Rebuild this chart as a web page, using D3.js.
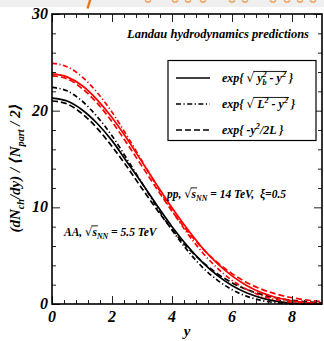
<!DOCTYPE html>
<html><head><meta charset="utf-8">
<script src="https://cdn.jsdelivr.net/npm/d3@7"></script>
<style>
body{margin:0;background:#fff;}
svg{display:block;}
text{font-family:"Liberation Serif","Times New Roman","DejaVu Serif",serif;font-weight:bold;font-style:italic;fill:#000;white-space:pre;}
</style></head>
<body>
<script>
// ---- data ----
const rapidity = [0,0.5,1,1.5,2,2.5,3,3.5,4,4.5,5,5.5,6,6.5,7,7.5,8,8.5,9];
const aaSolid   = [21.3,21.0,20.1,18.7,16.9,14.7,12.5,10.2,8.0,6.05,4.36,2.98,1.91,1.13,0.61,0.28,0.10,0.02,0];
const aaDashDot = [22.4,22.05,21.0,19.4,17.4,15.0,12.5,10.0,7.65,5.6,3.85,2.5,1.48,0.79,0.35,0.12,0,0,0];
const aaDashed  = [21.0,20.7,19.7,18.2,16.3,14.2,11.95,9.75,7.7,5.9,4.4,3.16,2.2,1.49,0.97,0.62,0.38,0.23,0.13];
const ppSolid   = [23.8,23.5,22.6,21.15,19.3,17.1,14.7,12.3,9.95,7.8,5.85,4.22,2.91,1.89,1.15,0.65,0.33,0.14,0.05];
const ppDashDot = [24.9,24.55,23.5,21.9,19.85,17.4,14.8,12.2,9.66,7.37,5.38,3.74,2.45,1.5,0.84,0.42,0.17,0.05,0];
const ppDashed  = [23.6,23.3,22.3,20.8,18.86,16.6,14.25,11.9,9.6,7.6,5.8,4.33,3.14,2.21,1.51,1.01,0.65,0.41,0.25];
const xTickLabels = [0,2,4,6,8];
const yTickLabels = [0,10,20,30];
const legendLabels = ["sqrtyb","sqrtL","gauss"];
const title = "Landau hydrodynamics predictions";
const ppNote = "pp";
const aaNote = "AA";

// ---- layout ----
const W=324,H=341;
const L=52,R=322,T=14,B=304;
const svg=d3.select("body").append("svg").attr("width",W).attr("height",H);

// top strip (cropped header)
svg.append("rect").attr("x",0).attr("y",0).attr("width",W).attr("height",7).attr("fill","#efefef");
svg.append("line").attr("x1",90.5).attr("y1",-1).attr("x2",87.5).attr("y2",8.5).attr("stroke","#e07b1a").attr("stroke-width",2.4);
[148,175,188,203,232,245,273,287,300,313].forEach(cx=>{
  svg.append("path").attr("d",`M${cx-3},0.5 Q${cx},4 ${cx+3},0.5`).attr("fill","none").attr("stroke","#f0a25a").attr("stroke-width",1.6);
});

const x=d3.scaleLinear().domain([0,9]).range([L,R]);
const y=d3.scaleLinear().domain([0,30]).range([B,T]);

const curveColor={aa:"#000",pp:"#ff0000"};
const dashes={solid:null,dashdot:"5,2.5,1.2,2.5",dashed:"6,3"};
const series=[
  {v:aaSolid,c:"aa",d:"solid"},{v:aaDashDot,c:"aa",d:"dashdot"},{v:aaDashed,c:"aa",d:"dashed"},
  {v:ppSolid,c:"pp",d:"solid"},{v:ppDashDot,c:"pp",d:"dashdot"},{v:ppDashed,c:"pp",d:"dashed"}
];
const line=d3.line().x((d,i)=>x(rapidity[i])).y(d=>y(d)).curve(d3.curveMonotoneX);
const cg=svg.append("g");
series.forEach(s=>{
  cg.append("path").attr("d",line(s.v)).attr("fill","none")
    .attr("stroke",curveColor[s.c]).attr("stroke-width",1.7)
    .attr("stroke-dasharray",dashes[s.d]);
});

// axes ticks (inward, all four sides)
const xMinor=d3.range(0,9.001,0.4).filter(v=>Math.abs(v/2-Math.round(v/2))>1e-6);
const yMinor=d3.range(0,30.001,2).filter(v=>v%10!==0);
function ax(gen,tr,vals,size){
  const g=svg.append("g").attr("transform",tr).call(gen.tickValues(vals).tickSize(size).tickFormat(""));
  g.select(".domain").remove();
  g.selectAll(".tick line").attr("stroke","#222").attr("stroke-width",1);
  return g;
}
ax(d3.axisBottom(x),`translate(0,${B})`,xMinor,-4);
ax(d3.axisBottom(x),`translate(0,${B})`,xTickLabels,-8);
ax(d3.axisTop(x),`translate(0,${T})`,xMinor,-4);
ax(d3.axisTop(x),`translate(0,${T})`,xTickLabels,-8);
ax(d3.axisLeft(y),`translate(${L},0)`,yMinor,-4);
ax(d3.axisLeft(y),`translate(${L},0)`,yTickLabels,-8);
ax(d3.axisRight(y),`translate(${R},0)`,yMinor,-4);
ax(d3.axisRight(y),`translate(${R},0)`,yTickLabels,-8);

svg.append("rect").attr("x",L).attr("y",T).attr("width",R-L).attr("height",B-T)
  .attr("fill","none").attr("stroke","#000").attr("stroke-width",1.6);

// tick labels
svg.append("g").selectAll("text").data(xTickLabels).join("text")
  .attr("x",d=>x(d)).attr("y",B+18).attr("text-anchor","middle").attr("font-size",16).text(d=>d);
svg.append("g").selectAll("text").data(yTickLabels).join("text")
  .attr("x",L-4).attr("y",d=>y(d)+5).attr("text-anchor","end").attr("font-size",16).text(d=>d);

// x label
svg.append("text").attr("x",x(4.5)).attr("y",336).attr("text-anchor","middle").attr("font-size",15).text("y");

// rich text helper
function rich(g,x0,y0,segs,size,anchor){
  const grp=g.append("g");
  let cx=0; const overs=[];
  segs.forEach(s=>{
    let fs=size, dy=0;
    if(s.sub){fs=size*0.68;dy=size*0.28;}
    if(s.sup){fs=size*0.68;dy=-size*0.42;}
    const t=grp.append("text").attr("x",cx).attr("y",dy).attr("font-size",fs).text(s.t);
    if(s.font) t.style("font-family",s.font).style("font-style","normal").style("font-weight","normal");
    const w=t.node().getComputedTextLength();
    if(s.over) overs.push([cx,cx+w]);
    if(!s.noAdv) cx+=w;
  });
  if(overs.length){
    const a=d3.min(overs,d=>d[0])-1,b=d3.max(overs,d=>d[1])+1;
    grp.append("line").attr("x1",a).attr("x2",b).attr("y1",-size*0.88).attr("y2",-size*0.88).attr("stroke","#000").attr("stroke-width",0.9);
  }
  let sx=x0;
  if(anchor==="end") sx=x0-cx; else if(anchor==="middle") sx=x0-cx/2;
  grp.attr("transform",`translate(${sx},${y0})`);
  return grp;
}

// title
svg.append("text").attr("x",309).attr("y",38).attr("text-anchor","end").attr("font-size",12.5).text(title);

// legend
svg.append("rect").attr("x",168).attr("y",60.5).attr("width",148).attr("height",80).attr("fill","#fff").attr("stroke","#000").attr("stroke-width",1.2);
const legDash=["solid","dashdot","dashed"];
const legSegs=[
  [{t:"exp{ "},{t:"√",font:"DejaVu Serif"},{t:" y",over:true},{t:"2",sup:true,noAdv:true,over:true},{t:"b",sub:true,over:true},{t:" - y",over:true},{t:"2",sup:true,over:true},{t:" }"}],
  [{t:"exp{ "},{t:"√",font:"DejaVu Serif"},{t:" L",over:true},{t:"2",sup:true,over:true},{t:" - y",over:true},{t:"2",sup:true,over:true},{t:" }"}],
  [{t:"exp{ -y"},{t:"2",sup:true},{t:"/2L }"}]
];
legendLabels.forEach((k,i)=>{
  const yy=78+i*26;
  svg.append("line").attr("x1",176).attr("x2",210).attr("y1",yy).attr("y2",yy)
    .attr("stroke","#000").attr("stroke-width",1.4).attr("stroke-dasharray",dashes[legDash[i]]);
  rich(svg,222,yy+4,legSegs[i],12);
});

// annotations
rich(svg,167,198,[{t:ppNote+", "},{t:"√",font:"DejaVu Serif"},{t:"s",over:true},{t:"NN",sub:true},{t:" = 14 TeV,  ξ=0.5"}],11.5);
rich(svg,64,236,[{t:aaNote+", "},{t:"√",font:"DejaVu Serif"},{t:"s",over:true},{t:"NN",sub:true},{t:" = 5.5 TeV"}],11.5);

// y label
const yl=svg.append("g").attr("transform","translate(20,168) rotate(-90)");
rich(yl,0,0,[{t:"(dN"},{t:"ch",sub:true},{t:"/dy) / ⟨N"},{t:"part",sub:true},{t:" / 2⟩"}],15,"middle");
</script>
</body></html>
